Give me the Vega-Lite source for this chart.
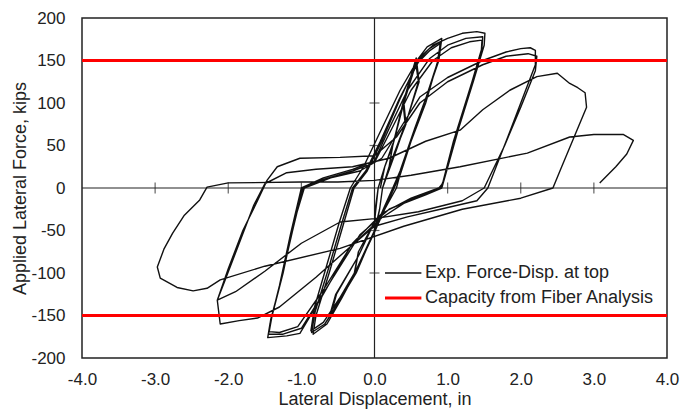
{
"$schema": "https://vega.github.io/schema/vega-lite/v6.json",
"width": 585, "height": 340,
"autosize": {"type": "none"},
"padding": {"left": 82, "top": 18, "right": 13, "bottom": 52},
"background": "white",
"config": {"font": "Liberation Sans", "view": {"stroke": "#222", "strokeWidth": 1.5},
 "axis": {"grid": false, "domain": false, "ticks": false, "labelFont": "Liberation Sans", "labelFontSize": 17, "labelColor": "#222", "titleFont": "Liberation Sans", "titleFontSize": 18, "titleFontWeight": "normal", "titleColor": "#222", "labelFlush": false, "labelOverlap": false, "labelExpr": "replace(datum.label, '\u2212', '-')"}},
"layer": [
 {"mark": {"type": "rule", "color": "#222", "strokeWidth": 1.2}, "data": {"values": [{"x": 0}]},
  "encoding": {"x": {"field": "x", "type": "quantitative", "scale": {"domain": [-4, 4], "nice": false, "zero": false},
         "axis": {"values": [-4, -3, -2, -1, 0, 1, 2, 3, 4], "format": ".1f", "title": "Lateral Displacement, in", "labelPadding": 13, "titlePadding": 3}}}},
 {"mark": {"type": "rule", "color": "#222", "strokeWidth": 1.2}, "data": {"values": [{"y": 0}]},
  "encoding": {"y": {"field": "y", "type": "quantitative", "scale": {"domain": [-200, 200], "nice": false, "zero": false},
         "axis": {"values": [-200, -150, -100, -50, 0, 50, 100, 150, 200], "title": "Applied Lateral Force, kips", "labelPadding": 17, "titlePadding": 1}}}},
 {"mark": {"type": "tick", "orient": "vertical", "size": 11, "thickness": 1.2, "color": "#222"},
  "data": {"values": [{"x": -3, "y": 0}, {"x": -2, "y": 0}, {"x": -1, "y": 0}, {"x": 1, "y": 0}, {"x": 2, "y": 0}, {"x": 3, "y": 0}]},
  "encoding": {"x": {"field": "x", "type": "quantitative", "axis": {"values": [-4, -3, -2, -1, 0, 1, 2, 3, 4], "format": ".1f", "title": "Lateral Displacement, in", "labelPadding": 13, "titlePadding": 3}},
               "y": {"field": "y", "type": "quantitative", "axis": {"values": [-200, -150, -100, -50, 0, 50, 100, 150, 200], "title": "Applied Lateral Force, kips", "labelPadding": 17, "titlePadding": 1}}}},
 {"mark": {"type": "tick", "orient": "horizontal", "size": 10, "thickness": 1.2, "color": "#222"},
  "data": {"values": [{"x": 0, "y": -150}, {"x": 0, "y": -100}, {"x": 0, "y": -50}, {"x": 0, "y": 50}, {"x": 0, "y": 100}, {"x": 0, "y": 150}]},
  "encoding": {"x": {"field": "x", "type": "quantitative", "axis": {"values": [-4, -3, -2, -1, 0, 1, 2, 3, 4], "format": ".1f", "title": "Lateral Displacement, in", "labelPadding": 13, "titlePadding": 3}},
               "y": {"field": "y", "type": "quantitative", "axis": {"values": [-200, -150, -100, -50, 0, 50, 100, 150, 200], "title": "Applied Lateral Force, kips", "labelPadding": 17, "titlePadding": 1}}}},
 {"mark": {"type": "line", "strokeWidth": 1.4, "strokeJoin": "round"},
  "data": {"values": [
{"i":1,"x":0.08,"y":0},{"i":2,"x":0.14,"y":25},{"i":3,"x":0.25,"y":50},{"i":4,"x":0.2,"y":25},{"i":5,"x":0.11,"y":0},{"i":6,"x":0.07,"y":-25},{"i":7,"x":0.0,"y":-50},{"i":8,"x":0.01,"y":-25},{"i":9,"x":0.05,"y":0},{"i":10,"x":0.14,"y":25},
{"i":11,"x":0.25,"y":52},{"i":12,"x":0.2,"y":25},{"i":13,"x":0.11,"y":0},{"i":14,"x":0.07,"y":-25},{"i":15,"x":0.0,"y":-52},{"i":16,"x":0.01,"y":-25},{"i":17,"x":0.05,"y":0},{"i":18,"x":0.14,"y":25},{"i":19,"x":0.25,"y":50},{"i":20,"x":0.39,"y":100},
{"i":21,"x":0.42,"y":75},{"i":22,"x":0.2,"y":25},{"i":23,"x":0.11,"y":0},{"i":24,"x":0.07,"y":-25},{"i":25,"x":0.0,"y":-50},{"i":26,"x":-0.27,"y":-100},{"i":27,"x":-0.22,"y":-75},{"i":28,"x":0.0,"y":-40},{"i":29,"x":0.05,"y":0},{"i":30,"x":0.14,"y":25},
{"i":31,"x":0.25,"y":50},{"i":32,"x":0.4,"y":102},{"i":33,"x":0.43,"y":75},{"i":34,"x":0.2,"y":25},{"i":35,"x":0.11,"y":0},{"i":36,"x":0.07,"y":-25},{"i":37,"x":0.01,"y":-50},{"i":38,"x":-0.28,"y":-102},{"i":39,"x":-0.22,"y":-75},{"i":40,"x":0.0,"y":-40},
{"i":41,"x":0.05,"y":0},{"i":42,"x":0.14,"y":25},{"i":43,"x":0.25,"y":50},{"i":44,"x":0.39,"y":100},{"i":45,"x":0.56,"y":150},{"i":46,"x":0.6,"y":125},{"i":47,"x":0.46,"y":85},{"i":48,"x":0.3,"y":45},{"i":49,"x":0.11,"y":0},{"i":50,"x":0.07,"y":-25},
{"i":51,"x":0.0,"y":-50},{"i":52,"x":-0.25,"y":-100},{"i":53,"x":-0.6,"y":-150},{"i":54,"x":-0.52,"y":-125},{"i":55,"x":-0.22,"y":-80},{"i":56,"x":0.0,"y":-40},{"i":57,"x":0.05,"y":0},{"i":58,"x":0.14,"y":25},{"i":59,"x":0.25,"y":50},{"i":60,"x":0.39,"y":100},
{"i":61,"x":0.57,"y":153},{"i":62,"x":0.61,"y":125},{"i":63,"x":0.46,"y":85},{"i":64,"x":0.3,"y":45},{"i":65,"x":0.11,"y":0},{"i":66,"x":0.07,"y":-25},{"i":67,"x":0.0,"y":-50},{"i":68,"x":-0.25,"y":-100},{"i":69,"x":-0.62,"y":-152},{"i":70,"x":-0.53,"y":-125},
{"i":71,"x":-0.22,"y":-80},{"i":72,"x":0.0,"y":-40},{"i":73,"x":0.05,"y":0},{"i":74,"x":0.14,"y":25},{"i":75,"x":0.25,"y":50},{"i":76,"x":0.4,"y":100},{"i":77,"x":0.58,"y":150},{"i":78,"x":0.72,"y":166},{"i":79,"x":0.92,"y":176},{"i":80,"x":0.88,"y":150},
{"i":81,"x":0.72,"y":110},{"i":82,"x":0.55,"y":70},{"i":83,"x":0.35,"y":20},{"i":84,"x":0.25,"y":0},{"i":85,"x":0.12,"y":-25},{"i":86,"x":0.0,"y":-50},{"i":87,"x":-0.2,"y":-90},{"i":88,"x":-0.45,"y":-130},{"i":89,"x":-0.65,"y":-160},{"i":90,"x":-0.84,"y":-172},
{"i":91,"x":-0.8,"y":-150},{"i":92,"x":-0.62,"y":-100},{"i":93,"x":-0.45,"y":-50},{"i":94,"x":-0.28,"y":0},{"i":95,"x":-0.1,"y":20},{"i":96,"x":0.1,"y":55},{"i":97,"x":0.35,"y":105},{"i":98,"x":0.6,"y":150},{"i":99,"x":0.75,"y":164},{"i":100,"x":0.9,"y":172},
{"i":101,"x":0.87,"y":150},{"i":102,"x":0.7,"y":105},{"i":103,"x":0.52,"y":62},{"i":104,"x":0.34,"y":15},{"i":105,"x":0.27,"y":0},{"i":106,"x":0.12,"y":-28},{"i":107,"x":-0.02,"y":-55},{"i":108,"x":-0.22,"y":-92},{"i":109,"x":-0.47,"y":-132},{"i":110,"x":-0.68,"y":-160},
{"i":111,"x":-0.86,"y":-170},{"i":112,"x":-0.81,"y":-145},{"i":113,"x":-0.63,"y":-95},{"i":114,"x":-0.46,"y":-45},{"i":115,"x":-0.3,"y":0},{"i":116,"x":-0.12,"y":20},{"i":117,"x":0.08,"y":55},{"i":118,"x":0.34,"y":105},{"i":119,"x":0.6,"y":148},{"i":120,"x":0.76,"y":162},
{"i":121,"x":0.9,"y":170},{"i":122,"x":0.86,"y":148},{"i":123,"x":0.7,"y":100},{"i":124,"x":0.5,"y":55},{"i":125,"x":0.33,"y":10},{"i":126,"x":0.3,"y":0},{"i":127,"x":0.14,"y":-25},{"i":128,"x":0.0,"y":-52},{"i":129,"x":-0.22,"y":-92},{"i":130,"x":-0.48,"y":-130},
{"i":131,"x":-0.7,"y":-158},{"i":132,"x":-0.87,"y":-168},{"i":133,"x":-0.82,"y":-140},{"i":134,"x":-0.65,"y":-90},{"i":135,"x":-0.48,"y":-40},{"i":136,"x":-0.33,"y":0},{"i":137,"x":-0.15,"y":25},{"i":138,"x":0.1,"y":70},{"i":139,"x":0.35,"y":115},{"i":140,"x":0.6,"y":152},
{"i":141,"x":0.8,"y":168},{"i":142,"x":1.0,"y":176},{"i":143,"x":1.2,"y":182},{"i":144,"x":1.4,"y":184},{"i":145,"x":1.51,"y":182},{"i":146,"x":1.5,"y":168},{"i":147,"x":1.35,"y":125},{"i":148,"x":1.15,"y":70},{"i":149,"x":0.99,"y":21},{"i":150,"x":0.92,"y":0},
{"i":151,"x":0.7,"y":-8},{"i":152,"x":0.4,"y":-18},{"i":153,"x":0.1,"y":-35},{"i":154,"x":-0.33,"y":-69},{"i":155,"x":-0.7,"y":-125},{"i":156,"x":-1.02,"y":-171},{"i":157,"x":-1.2,"y":-174},{"i":158,"x":-1.46,"y":-176},{"i":159,"x":-1.43,"y":-160},{"i":160,"x":-1.3,"y":-115},
{"i":161,"x":-1.15,"y":-55},{"i":162,"x":-1.0,"y":0},{"i":163,"x":-0.7,"y":12},{"i":164,"x":-0.3,"y":22},{"i":165,"x":0.0,"y":32},{"i":166,"x":0.2,"y":70},{"i":167,"x":0.45,"y":115},{"i":168,"x":0.75,"y":152},{"i":169,"x":1.0,"y":168},{"i":170,"x":1.25,"y":176},
{"i":171,"x":1.48,"y":178},{"i":172,"x":1.47,"y":165},{"i":173,"x":1.3,"y":115},{"i":174,"x":1.1,"y":60},{"i":175,"x":0.95,"y":10},{"i":176,"x":0.9,"y":0},{"i":177,"x":0.6,"y":-10},{"i":178,"x":0.2,"y":-25},{"i":179,"x":-0.2,"y":-55},{"i":180,"x":-0.6,"y":-110},
{"i":181,"x":-1.0,"y":-165},{"i":182,"x":-1.25,"y":-172},{"i":183,"x":-1.45,"y":-172},{"i":184,"x":-1.42,"y":-155},{"i":185,"x":-1.28,"y":-110},{"i":186,"x":-1.12,"y":-50},{"i":187,"x":-0.98,"y":0},{"i":188,"x":-0.7,"y":10},{"i":189,"x":-0.3,"y":20},{"i":190,"x":0.0,"y":30},
{"i":191,"x":0.25,"y":72},{"i":192,"x":0.5,"y":115},{"i":193,"x":0.8,"y":150},{"i":194,"x":1.05,"y":165},{"i":195,"x":1.3,"y":172},{"i":196,"x":1.47,"y":174},{"i":197,"x":1.46,"y":160},{"i":198,"x":1.28,"y":110},{"i":199,"x":1.08,"y":55},{"i":200,"x":0.93,"y":5},
{"i":201,"x":0.88,"y":0},{"i":202,"x":0.5,"y":-12},{"i":203,"x":0.1,"y":-30},{"i":204,"x":-0.3,"y":-65},{"i":205,"x":-0.7,"y":-120},{"i":206,"x":-1.05,"y":-163},{"i":207,"x":-1.3,"y":-170},{"i":208,"x":-1.44,"y":-169},{"i":209,"x":-1.4,"y":-150},{"i":210,"x":-1.25,"y":-100},
{"i":211,"x":-1.1,"y":-40},{"i":212,"x":-0.96,"y":0},{"i":213,"x":-0.6,"y":12},{"i":214,"x":-0.2,"y":20},{"i":215,"x":0.1,"y":35},{"i":216,"x":0.35,"y":70},{"i":217,"x":0.62,"y":107},{"i":218,"x":1.0,"y":130},{"i":219,"x":1.48,"y":150},{"i":220,"x":1.8,"y":160},
{"i":221,"x":2.0,"y":164},{"i":222,"x":2.13,"y":165},{"i":223,"x":2.2,"y":162},{"i":224,"x":2.2,"y":145},{"i":225,"x":2.0,"y":100},{"i":226,"x":1.8,"y":55},{"i":227,"x":1.55,"y":0},{"i":228,"x":1.4,"y":-15},{"i":229,"x":0.9,"y":-25},{"i":230,"x":0.45,"y":-34},
{"i":231,"x":0.0,"y":-45},{"i":232,"x":-0.33,"y":-69},{"i":233,"x":-0.8,"y":-105},{"i":234,"x":-1.3,"y":-140},{"i":235,"x":-1.6,"y":-153},{"i":236,"x":-1.85,"y":-156},{"i":237,"x":-2.11,"y":-160},{"i":238,"x":-2.15,"y":-132},{"i":239,"x":-2.0,"y":-95},{"i":240,"x":-1.8,"y":-50},
{"i":241,"x":-1.6,"y":-15},{"i":242,"x":-1.47,"y":9},{"i":243,"x":-1.33,"y":25},{"i":244,"x":-1.02,"y":35},{"i":245,"x":-0.47,"y":36},{"i":246,"x":0.0,"y":38},{"i":247,"x":0.3,"y":60},{"i":248,"x":0.62,"y":100},{"i":249,"x":1.0,"y":125},{"i":250,"x":1.48,"y":145},
{"i":251,"x":1.8,"y":155},{"i":252,"x":2.1,"y":158},{"i":253,"x":2.22,"y":155},{"i":254,"x":2.2,"y":138},{"i":255,"x":2.0,"y":95},{"i":256,"x":1.78,"y":50},{"i":257,"x":1.5,"y":0},{"i":258,"x":1.2,"y":-15},{"i":259,"x":0.6,"y":-28},{"i":260,"x":0.0,"y":-36},
{"i":261,"x":-0.47,"y":-40},{"i":262,"x":-1.0,"y":-65},{"i":263,"x":-1.5,"y":-98},{"i":264,"x":-1.9,"y":-122},{"i":265,"x":-2.15,"y":-132},{"i":266,"x":-2.05,"y":-110},{"i":267,"x":-1.85,"y":-65},{"i":268,"x":-1.65,"y":-20},{"i":269,"x":-1.5,"y":5},{"i":270,"x":-1.2,"y":18},
{"i":271,"x":-0.8,"y":22},{"i":272,"x":-0.3,"y":25},{"i":273,"x":0.2,"y":35},{"i":274,"x":0.7,"y":55},{"i":275,"x":1.17,"y":68},{"i":276,"x":1.48,"y":92},{"i":277,"x":1.85,"y":115},{"i":278,"x":2.22,"y":131},{"i":279,"x":2.5,"y":135},{"i":280,"x":2.67,"y":123},
{"i":281,"x":2.78,"y":118},{"i":282,"x":2.88,"y":112},{"i":283,"x":2.9,"y":95},{"i":284,"x":2.72,"y":58},{"i":285,"x":2.54,"y":21},{"i":286,"x":2.44,"y":0},{"i":287,"x":2.0,"y":-12},{"i":288,"x":1.2,"y":-25},{"i":289,"x":0.4,"y":-45},{"i":290,"x":-0.47,"y":-71},
{"i":291,"x":-1.5,"y":-92},{"i":292,"x":-2.11,"y":-108},{"i":293,"x":-2.29,"y":-118},{"i":294,"x":-2.48,"y":-121},{"i":295,"x":-2.7,"y":-117},{"i":296,"x":-2.93,"y":-106},{"i":297,"x":-2.97,"y":-93},{"i":298,"x":-2.88,"y":-72},{"i":299,"x":-2.76,"y":-53},{"i":300,"x":-2.6,"y":-32},
{"i":301,"x":-2.39,"y":-14},{"i":302,"x":-2.29,"y":1},{"i":303,"x":-2.0,"y":6},{"i":304,"x":-1.0,"y":7},{"i":305,"x":-0.5,"y":7},{"i":306,"x":0.0,"y":9},{"i":307,"x":0.5,"y":15},{"i":308,"x":1.17,"y":25},{"i":309,"x":2.09,"y":41},{"i":310,"x":2.67,"y":60},
{"i":311,"x":3.0,"y":63},{"i":312,"x":3.4,"y":63},{"i":313,"x":3.54,"y":56},{"i":314,"x":3.45,"y":40},{"i":315,"x":3.3,"y":25},{"i":316,"x":3.08,"y":6}
  ]},
  "encoding": {
   "x": {"field": "x", "type": "quantitative", "axis": {"values": [-4, -3, -2, -1, 0, 1, 2, 3, 4], "format": ".1f", "title": "Lateral Displacement, in", "labelPadding": 13, "titlePadding": 3}},
   "y": {"field": "y", "type": "quantitative", "axis": {"values": [-200, -150, -100, -50, 0, 50, 100, 150, 200], "title": "Applied Lateral Force, kips", "labelPadding": 17, "titlePadding": 1}},
   "order": {"field": "i", "type": "quantitative"},
   "color": {"datum": "Exp. Force-Disp. at top", "type": "nominal",
     "scale": {"domain": ["Exp. Force-Disp. at top", "Capacity from Fiber Analysis"], "range": ["#111111", "#ff0000"]},
     "legend": {"orient": "none", "legendX": 303, "legendY": 246, "title": null, "symbolType": "stroke", "symbolSize": 3000, "symbolStrokeWidth": 2,
       "labelFontSize": 18, "labelColor": "#222", "labelFont": "Liberation Sans", "labelLimit": 400, "padding": 0, "rowPadding": 7, "clipHeight": 18, "labelOffset": 22,
       "encode": {"symbols": {"update": {"strokeWidth": {"signal": "datum.value === 'Capacity from Fiber Analysis' ? 3 : 1.5"}}}}}}
  }},
 {"mark": {"type": "rule", "strokeWidth": 3},
  "data": {"values": [{"y": 150}, {"y": -150}]},
  "encoding": {"y": {"field": "y", "type": "quantitative", "axis": {"values": [-200, -150, -100, -50, 0, 50, 100, 150, 200], "title": "Applied Lateral Force, kips", "labelPadding": 17, "titlePadding": 1}},
   "color": {"datum": "Capacity from Fiber Analysis", "type": "nominal"}}}
]
}
